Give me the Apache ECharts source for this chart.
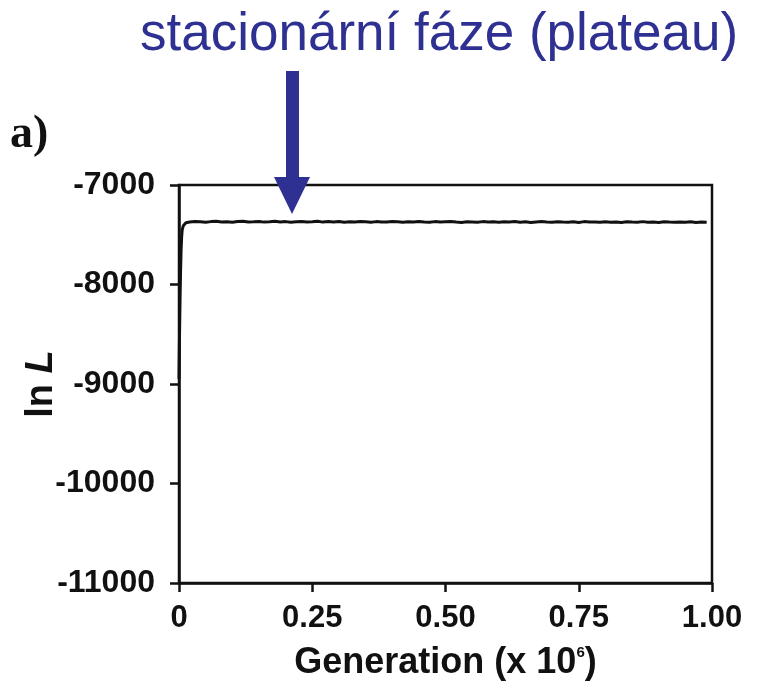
<!DOCTYPE html>
<html><head><meta charset="utf-8">
<script src="https://cdn.jsdelivr.net/npm/echarts@6/dist/echarts.min.js"></script>
<style>html,body{margin:0;padding:0;background:#fff}#c{width:760px;height:689px}</style>
</head><body><div id="c"></div>
<script>
const generationEarly = [0, 0.001, 0.002, 0.003, 0.004, 0.005, 0.006, 0.008, 0.010, 0.013, 0.016];
const lnLEarly = [-8950, -8500, -8150, -7850, -7640, -7520, -7450, -7410, -7390, -7380, -7375];
const generationPlateau = [
0.02,0.03,0.04,0.05,0.06,0.07,0.08,0.09,0.10,0.11,
0.12,0.13,0.14,0.15,0.16,0.17,0.18,0.19,0.20,0.21,
0.22,0.23,0.24,0.25,0.26,0.27,0.28,0.29,0.30,0.31,
0.32,0.33,0.34,0.35,0.36,0.37,0.38,0.39,0.40,0.41,
0.42,0.43,0.44,0.45,0.46,0.47,0.48,0.49,0.50,0.51,
0.52,0.53,0.54,0.55,0.56,0.57,0.58,0.59,0.60,0.61,
0.62,0.63,0.64,0.65,0.66,0.67,0.68,0.69,0.70,0.71,
0.72,0.73,0.74,0.75,0.76,0.77,0.78,0.79,0.80,0.81,
0.82,0.83,0.84,0.85,0.86,0.87,0.88,0.89,0.90,0.91,
0.92,0.93,0.94,0.95,0.96,0.97,0.98,0.99];
const lnLPlateau = [
-7372,-7366,-7370,-7375,-7368,-7364,-7371,-7369,-7374,-7367,
-7365,-7372,-7370,-7366,-7373,-7369,-7364,-7371,-7368,-7375,
-7370,-7366,-7372,-7369,-7365,-7373,-7368,-7371,-7367,-7374,
-7369,-7372,-7366,-7370,-7375,-7368,-7371,-7373,-7367,-7370,
-7374,-7369,-7372,-7366,-7371,-7375,-7368,-7373,-7370,-7367,
-7372,-7376,-7369,-7371,-7374,-7368,-7373,-7370,-7375,-7369,
-7372,-7367,-7374,-7370,-7376,-7371,-7368,-7373,-7375,-7369,
-7372,-7374,-7370,-7376,-7368,-7373,-7371,-7375,-7369,-7374,
-7371,-7376,-7370,-7373,-7375,-7368,-7374,-7372,-7376,-7370,
-7373,-7375,-7371,-7374,-7369,-7376,-7372,-7374];
const xTickValues = [0, 0.25, 0.5, 0.75, 1];
const xTickLabels = ['0', '0.25', '0.50', '0.75', '1.00'];
const yTickValues = [-11000, -10000, -9000, -8000, -7000];
const yTickLabels = ['-11000', '-10000', '-9000', '-8000', '-7000'];
const titleText = 'stacionární fáze (plateau)';
const panelLabel = 'a)';

const generation = generationEarly.concat(generationPlateau);
const lnL = lnLEarly.concat(lnLPlateau);
const seriesData = generation.map((g, i) => [g, lnL[i]]);

const chart = echarts.init(document.getElementById('c'), null, {renderer: 'canvas'});
const blue = '#2e3192';
const font = '"Liberation Sans", Arial, sans-serif';
chart.setOption({
  animation: false,
  backgroundColor: '#fff',
  grid: {left: 179, right: 48, top: 185, bottom: 106, show: true, borderColor: '#111', borderWidth: 2.5, backgroundColor: 'transparent', outerBoundsMode: 'none'},
  xAxis: {
    type: 'value', min: 0, max: 1, interval: 0.25,
    splitLine: {show: false},
    axisLine: {lineStyle: {color: '#111', width: 2.5}},
    axisTick: {inside: false, length: 9, lineStyle: {color: '#111', width: 2.5}},
    axisLabel: {margin: 20, color: '#111', fontFamily: font, fontWeight: 'bold', fontSize: 31,
      formatter: v => { const i = xTickValues.findIndex(t => Math.abs(t - v) < 1e-9); return i >= 0 ? xTickLabels[i] : ''; }},
    name: '{a|Generation (x 10}{s|6}{a|)}',
    nameLocation: 'middle', nameGap: 62, nameMoveOverlap: false,
    nameTextStyle: {rich: {
      a: {fontFamily: font, fontWeight: 'bold', fontSize: 36, color: '#111'},
      s: {fontFamily: font, fontWeight: 'bold', fontSize: 15, color: '#111', padding: [0, 0, 20, 0]}
    }}
  },
  yAxis: {
    type: 'value', min: -11000, max: -7000, interval: 1000,
    splitLine: {show: false},
    axisLine: {lineStyle: {color: '#111', width: 2.5}},
    axisTick: {inside: false, length: 9, lineStyle: {color: '#111', width: 2.5}},
    axisLabel: {margin: 24, color: '#111', fontFamily: font, fontWeight: 'bold', fontSize: 32,
      formatter: v => { const i = yTickValues.indexOf(v); return i >= 0 ? yTickLabels[i] : ''; }},
    name: '{a|ln }{b|L}',
    nameLocation: 'middle', nameGap: 118, nameRotate: 90, nameMoveOverlap: false,
    nameTextStyle: {rich: {
      a: {fontFamily: font, fontWeight: 'bold', fontSize: 38, color: '#111'},
      b: {fontFamily: font, fontWeight: 'bold', fontStyle: 'italic', fontSize: 38, color: '#111'}
    }}
  },
  series: [{
    type: 'line', data: seriesData, showSymbol: false, symbol: 'none',
    lineStyle: {color: '#111', width: 3}, smooth: false
  }],
  graphic: [
    {type: 'text', left: 140, top: 9, style: {text: titleText, fill: blue, font: '53px "Liberation Sans", Arial, sans-serif'}},
    {type: 'text', left: 10, top: 112, style: {text: panelLabel, fill: '#111', font: 'bold 46px "Liberation Serif", "Times New Roman", serif'}},
    {type: 'rect', shape: {x: 286, y: 71, width: 13, height: 108}, style: {fill: blue}},
    {type: 'polygon', shape: {points: [[274, 177], [310, 177], [292, 214]]}, style: {fill: blue}}
  ]
});
</script>
</body></html>
